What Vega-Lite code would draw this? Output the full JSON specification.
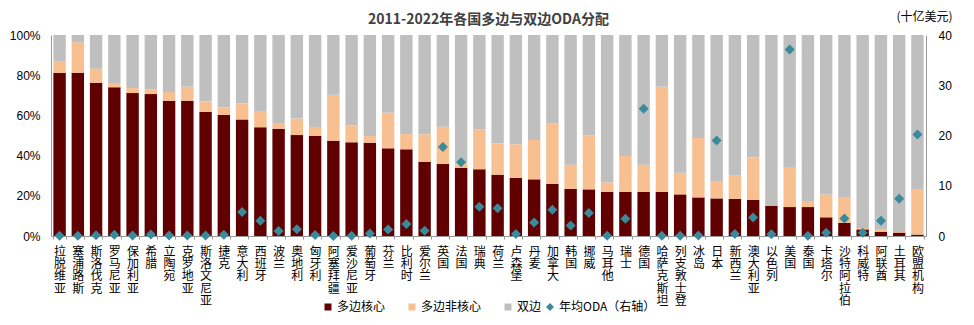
{
  "$schema": "https://vega.github.io/schema/vega-lite/v6.json",
  "autosize": {"type": "none"},
  "width": 875,
  "height": 201,
  "padding": {"left": 51, "top": 35, "right": 48, "bottom": 89},
  "background": "white",
  "title": {"text": "2011-2022年各国多边与双边ODA分配", "font": "Noto Sans CJK SC", "fontSize": 14, "fontWeight": "bold", "color": "#404040", "anchor": "middle", "offset": 7, "dy": 24},
  "config": {"view": {"stroke": null}, "font": "Noto Sans CJK SC"},
  "datasets": {
    "series": [
      {"s": "多边核心", "rank": 1},
      {"s": "多边非核心", "rank": 2},
      {"s": "双边", "rank": 3}
    ]
  },
  "data": {"values": [
    {"n": "拉脱维亚", "多边核心": 81.2, "多边非核心": 5.9, "双边": 12.9, "oda": 0.05},
    {"n": "塞浦路斯", "多边核心": 81.2, "多边非核心": 15.2, "双边": 3.6, "oda": 0.05},
    {"n": "斯洛伐克", "多边核心": 76.3, "多边非核心": 6.9, "双边": 16.8, "oda": 0.15},
    {"n": "罗马尼亚", "多边核心": 74.0, "多边非核心": 2.1, "双边": 23.9, "oda": 0.25},
    {"n": "保加利亚", "多边核心": 71.1, "多边非核心": 2.5, "双边": 26.4, "oda": 0.08},
    {"n": "希腊", "多边核心": 70.6, "多边非核心": 2.4, "双边": 27.0, "oda": 0.3},
    {"n": "立陶宛", "多边核心": 67.3, "多边非核心": 4.3, "双边": 28.4, "oda": 0.08},
    {"n": "克罗地亚", "多边核心": 67.3, "多边非核心": 7.0, "双边": 25.7, "oda": 0.08},
    {"n": "斯洛文尼亚", "多边核心": 61.8, "多边非核心": 5.2, "双边": 33.0, "oda": 0.1},
    {"n": "捷克", "多边核心": 60.2, "多边非核心": 3.8, "双边": 36.0, "oda": 0.25},
    {"n": "意大利", "多边核心": 58.0, "多边非核心": 8.0, "双边": 34.0, "oda": 4.8},
    {"n": "西班牙", "多边核心": 54.1, "多边非核心": 7.7, "双边": 38.2, "oda": 3.05},
    {"n": "波兰", "多边核心": 53.4, "多边非核心": 2.8, "双边": 43.8, "oda": 1.0},
    {"n": "奥地利", "多边核心": 50.2, "多边非核心": 8.2, "双边": 41.6, "oda": 1.33},
    {"n": "匈牙利", "多边核心": 49.9, "多边非核心": 4.0, "双边": 46.1, "oda": 0.2},
    {"n": "阿塞拜疆", "多边核心": 47.4, "多边非核心": 22.9, "双边": 29.7, "oda": 0.02},
    {"n": "爱沙尼亚", "多边核心": 46.6, "多边非核心": 8.5, "双边": 44.9, "oda": 0.05},
    {"n": "葡萄牙", "多边核心": 46.4, "多边非核心": 3.4, "双边": 50.2, "oda": 0.5},
    {"n": "芬兰", "多边核心": 43.6, "多边非核心": 17.7, "双边": 38.7, "oda": 1.3},
    {"n": "比利时", "多边核心": 43.1, "多边非核心": 7.6, "双边": 49.3, "oda": 2.4},
    {"n": "爱尔兰", "多边核心": 37.0, "多边非核心": 13.6, "双边": 49.4, "oda": 1.05},
    {"n": "英国", "多边核心": 35.8, "多边非核心": 18.6, "双边": 45.6, "oda": 17.7},
    {"n": "法国", "多边核心": 34.0, "多边非核心": 2.2, "双边": 63.8, "oda": 14.7},
    {"n": "瑞典", "多边核心": 33.2, "多边非核心": 19.9, "双边": 46.9, "oda": 5.8},
    {"n": "荷兰", "多边核心": 30.5, "多边非核心": 15.6, "双边": 53.9, "oda": 5.5},
    {"n": "卢森堡", "多边核心": 28.9, "多边非核心": 16.7, "双边": 54.4, "oda": 0.4},
    {"n": "丹麦", "多边核心": 28.2, "多边非核心": 19.6, "双边": 52.2, "oda": 2.7},
    {"n": "加拿大", "多边核心": 26.0, "多边非核心": 30.1, "双边": 43.9, "oda": 5.2},
    {"n": "韩国", "多边核心": 23.4, "多边非核心": 12.1, "双边": 64.5, "oda": 2.1},
    {"n": "挪威", "多边核心": 23.2, "多边非核心": 26.9, "双边": 49.9, "oda": 4.6},
    {"n": "马耳他", "多边核心": 22.0, "多边非核心": 4.7, "双边": 73.3, "oda": 0.03},
    {"n": "瑞士", "多边核心": 22.0, "多边非核心": 17.8, "双边": 60.2, "oda": 3.45},
    {"n": "德国", "多边核心": 22.0, "多边非核心": 13.5, "双边": 64.5, "oda": 25.3},
    {"n": "哈萨克斯坦", "多边核心": 21.9, "多边非核心": 52.4, "双边": 25.7, "oda": 0.05},
    {"n": "列支敦士登", "多边核心": 20.7, "多边非核心": 10.8, "双边": 68.5, "oda": 0.03},
    {"n": "冰岛", "多边核心": 19.2, "多边非核心": 29.6, "双边": 51.2, "oda": 0.08},
    {"n": "日本", "多边核心": 18.7, "多边非核心": 8.7, "双边": 72.6, "oda": 19.0},
    {"n": "新西兰", "多边核心": 18.4, "多边非核心": 11.9, "双边": 69.7, "oda": 0.4},
    {"n": "澳大利亚", "多边核心": 17.9, "多边非核心": 21.1, "双边": 61.0, "oda": 3.7},
    {"n": "以色列", "多边核心": 15.1, "多边非核心": 0.3, "双边": 84.6, "oda": 0.33},
    {"n": "美国", "多边核心": 14.4, "多边非核心": 19.6, "双边": 66.0, "oda": 37.1},
    {"n": "泰国", "多边核心": 14.4, "多边非核心": 3.0, "双边": 82.6, "oda": 0.05},
    {"n": "卡塔尔", "多边核心": 9.3, "多边非核心": 11.4, "双边": 79.3, "oda": 0.67},
    {"n": "沙特阿拉伯", "多边核心": 6.6, "多边非核心": 12.8, "双边": 80.6, "oda": 3.5},
    {"n": "科威特", "多边核心": 3.3, "多边非核心": 0.7, "双边": 96.0, "oda": 0.67},
    {"n": "阿联酋", "多边核心": 2.0, "多边非核心": 1.5, "双边": 96.5, "oda": 3.05},
    {"n": "土耳其", "多边核心": 1.7, "多边非核心": 0.3, "双边": 98.0, "oda": 7.4},
    {"n": "欧盟机构", "多边核心": 0.7, "多边非核心": 22.7, "双边": 76.6, "oda": 20.2}
  ]},
  "encoding": {
    "x": {
      "field": "n", "type": "nominal", "sort": null,
      "scale": {"paddingInner": 0.32, "paddingOuter": 0.13},
      "axis": {
        "title": null, "labelAngle": 0, "labelAlign": "center", "labelBaseline": "top",
        "labelExpr": "split(datum.label, '')", "labelLineHeight": 12.4,
        "labelFontSize": 12, "labelColor": "#000000", "labelPadding": 7,
        "tickBand": "extent", "tickSize": 3, "tickColor": "#999999",
        "domainColor": "#999999", "labelFont": "Noto Sans CJK SC"
      }
    }
  },
  "layer": [
    {
      "transform": [
        {"fold": ["多边核心", "多边非核心", "双边"], "as": ["s", "v"]},
        {"lookup": "s", "from": {"data": {"name": "series"}, "key": "s", "fields": ["rank"]}}
      ],
      "mark": {"type": "bar"},
      "encoding": {
        "y": {
          "field": "v", "type": "quantitative", "stack": "zero",
          "scale": {"domain": [0, 100]},
          "axis": {
            "title": null, "values": [0, 20, 40, 60, 80, 100], "grid": false,
            "labelExpr": "datum.value + '%'", "labelFontSize": 12, "labelColor": "#000000",
            "tickSize": 0, "labelPadding": 11, "domainColor": "#999999", "labelFont": "Liberation Sans"
          }
        },
        "color": {
          "field": "s", "type": "nominal",
          "sort": ["多边核心", "多边非核心", "双边"],
          "scale": {"domain": ["多边核心", "多边非核心", "双边"], "range": ["#600000", "#F8BF90", "#BFBFBF"]},
          "legend": {
            "title": null, "orient": "none", "direction": "horizontal",
            "legendX": 271, "legendY": 266, "symbolType": "square", "symbolSize": 49,
            "symbolStrokeWidth": 0, "labelFontSize": 12, "labelOffset": 3, "columnPadding": 20,
            "labelColor": "#000000", "labelFont": "Noto Sans CJK SC"
          }
        },
        "order": {"field": "rank", "type": "quantitative", "sort": "ascending"}
      }
    },
    {
      "mark": {"type": "point", "shape": "diamond", "filled": true, "size": 100, "opacity": 1},
      "encoding": {
        "y": {
          "field": "oda", "type": "quantitative",
          "scale": {"domain": [0, 40]},
          "axis": {
            "orient": "right", "title": "(十亿美元)", "titleAngle": 0, "titleAlign": "center",
            "titleBaseline": "middle", "titleX": -2, "titleY": -19, "titleFontWeight": "normal",
            "titleFontSize": 12, "titleColor": "#000000", "titleFont": "Noto Sans CJK SC",
            "values": [0, 10, 20, 30, 40], "grid": false, "labelFontSize": 12, "labelColor": "#000000",
            "tickSize": 0, "labelPadding": 12, "domainColor": "#999999", "labelFont": "Liberation Sans"
          }
        },
        "color": {
          "datum": "年均ODA（右轴）", "type": "nominal",
          "scale": {"range": ["#3A8A9C"]},
          "legend": {
            "title": null, "orient": "none", "direction": "horizontal",
            "legendX": 493, "legendY": 266, "symbolType": "diamond", "symbolSize": 64,
            "labelFontSize": 12, "labelOffset": 3, "labelColor": "#000000", "labelFont": "Noto Sans CJK SC"
          }
        }
      }
    }
  ],
  "resolve": {"scale": {"y": "independent", "color": "independent"}}
}
